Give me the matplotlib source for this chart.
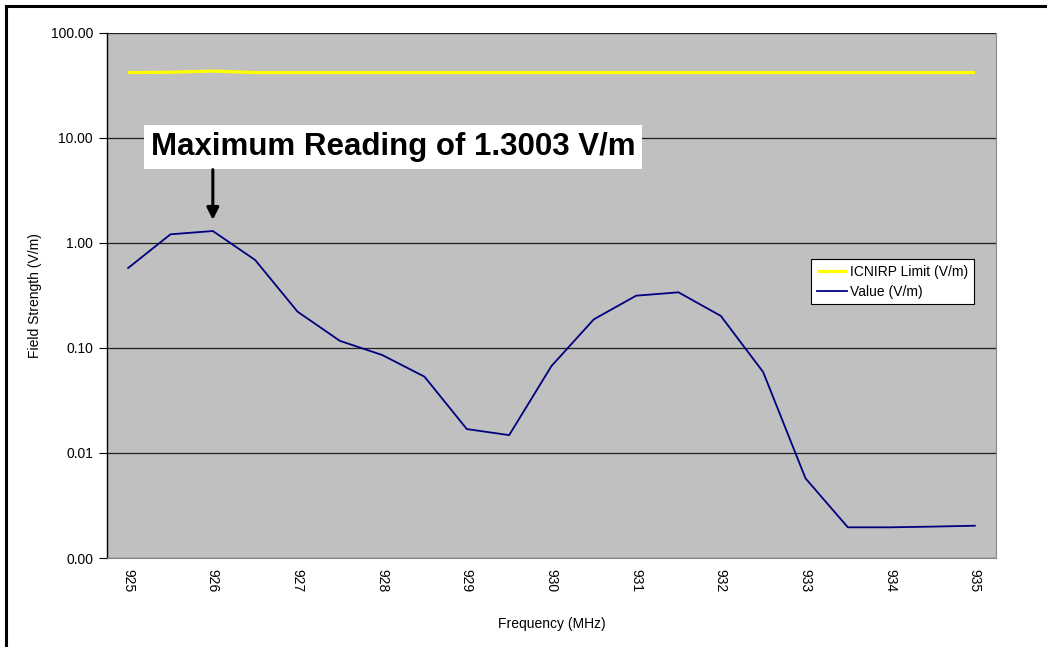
import numpy as np
import matplotlib
matplotlib.use('Agg')
import matplotlib.pyplot as plt
from matplotlib.lines import Line2D
from matplotlib.ticker import FixedLocator, FuncFormatter

plt.rcParams['font.family'] = ['Liberation Sans', 'DejaVu Sans']

# data
freq = [925, 925.5, 926, 926.5, 927, 927.5, 928, 928.5, 929, 929.5, 930,
        930.5, 931, 931.5, 932, 932.5, 933, 933.5, 934, 934.5, 935]
value = [0.578, 1.21, 1.3003, 0.689, 0.222, 0.117, 0.0858, 0.0533, 0.0169, 0.0148, 0.0674,
         0.1876, 0.315, 0.339, 0.202, 0.059, 0.00574, 0.00196, 0.00196, 0.00199, 0.00203]
limit = [42.0, 42.3, 43.4, 42.0, 42.0, 42.0, 42.0, 42.0, 42.0, 42.0, 42.0,
         42.0, 42.0, 42.0, 42.0, 42.0, 42.0, 42.0, 42.0, 42.0, 42.0]
xticks = [925, 926, 927, 928, 929, 930, 931, 932, 933, 934, 935]
yticks = [0.001, 0.01, 0.1, 1, 10, 100]

fig = plt.figure(figsize=(10.47, 6.47), dpi=100)
ax = fig.add_axes([107/1047, 1 - 558/647, 889/1047, 525/647])
ax.set_facecolor('#C0C0C0')

ax.plot(freq, limit, color='#FFFF00', lw=2.3, label='ICNIRP Limit (V/m)', solid_capstyle='butt')
ax.plot(freq, value, color='#000080', lw=1.3, label='Value (V/m)')

ax.set_yscale('log')
ax.set_ylim(0.001, 100)
ax.set_xlim(924.75, 935.25)
ax.yaxis.set_major_locator(FixedLocator(yticks))
ax.yaxis.set_minor_locator(FixedLocator([]))
ax.yaxis.set_major_formatter(FuncFormatter(lambda v, p: '%.2f' % v))
ax.set_xticks(xticks)
ax.set_xticklabels([str(t) for t in xticks], rotation=270)
ax.tick_params(axis='x', length=0, pad=8, labelsize=10)
ax.tick_params(axis='y', length=6, width=0.8, pad=4, labelsize=10, direction='out')
ax.grid(axis='y', color='#202020', lw=0.9)
ax.set_axisbelow(True)

ax.spines['top'].set_visible(False)
ax.spines['left'].set_color('black')
ax.spines['left'].set_linewidth(1)
ax.spines['right'].set_color('#888888')
ax.spines['bottom'].set_color('#888888')

ax.set_xlabel('Frequency (MHz)', fontsize=10, labelpad=18)
ax.set_ylabel('Field Strength (V/m)', fontsize=10, labelpad=6)

# annotation for maximum reading
imax = int(np.argmax(value))
ax.text(928.13, 8.2, 'Maximum Reading of %.4f V/m' % value[imax], fontsize=22.5,
        fontweight='bold', ha='center', va='center',
        bbox=dict(facecolor='white', edgecolor='none', pad=5))
ax.annotate('', xy=(freq[imax], 1.66), xytext=(freq[imax], 5.0),
            arrowprops=dict(arrowstyle='-|>', color='black', lw=2.2, mutation_scale=18,
                            shrinkA=0, shrinkB=0))

leg = ax.legend(loc='upper left', bbox_to_anchor=(0.792, 0.5695), borderaxespad=0,
                fancybox=False, edgecolor='black', framealpha=1, fontsize=10,
                handlelength=2.2, handletextpad=0.2, borderpad=0.4, labelspacing=0.45)
leg.get_frame().set_linewidth(0.8)

# frame round the figure (top and left only, as in the cropped original)
fig.add_artist(Line2D([6/1047, 1], [1 - 6/647, 1 - 6/647], color='black', lw=2.2))
fig.add_artist(Line2D([6/1047, 6/1047], [0, 1 - 6/647], color='black', lw=2.2))

plt.savefig('out.png', dpi=100)
